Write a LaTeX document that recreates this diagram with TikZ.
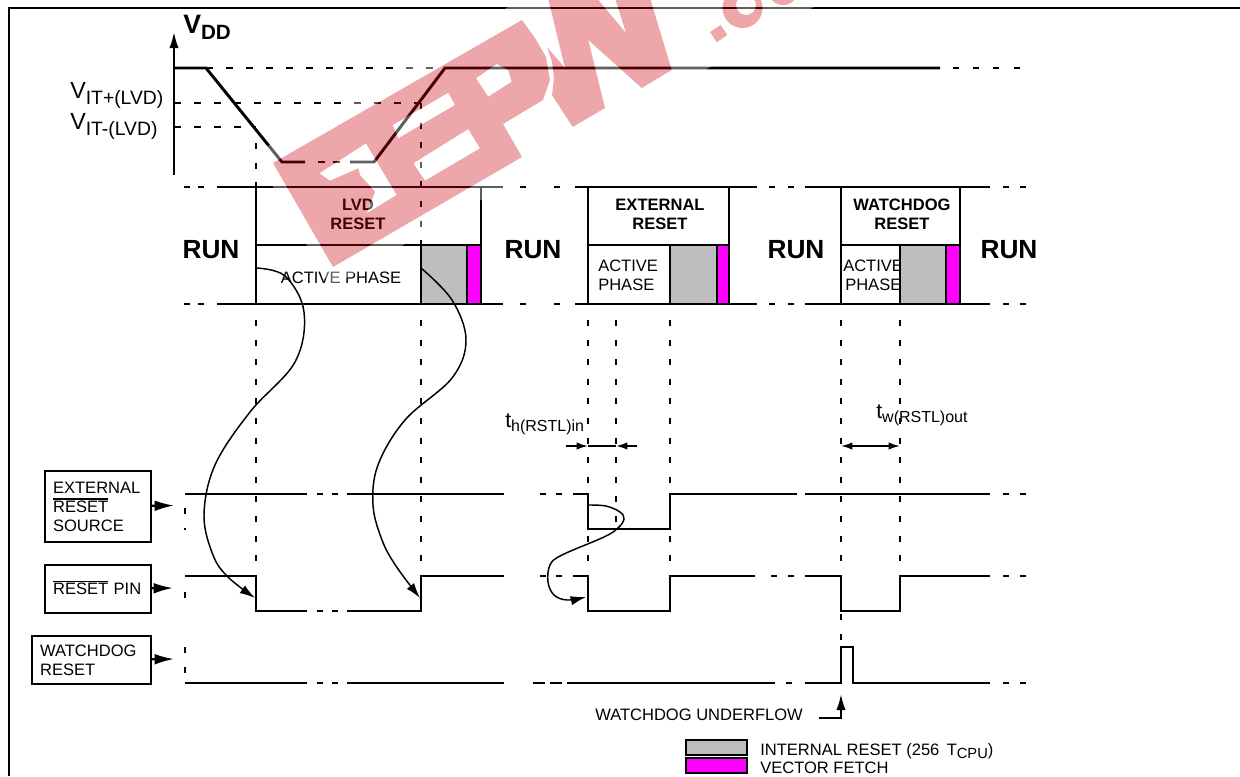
\documentclass[tikz,border=0pt]{standalone}
\usepackage{fontspec}
\setmainfont{Liberation Sans}
\usetikzlibrary{arrows.meta}
\definecolor{intern}{RGB}{190,190,190}
\definecolor{vector}{RGB}{255,0,255}
\definecolor{wmred}{RGB}{203,0,10}
\newcommand{\subtxt}[1]{\raisebox{-3.6pt}{\fontsize{12}{12}\selectfont #1}}
\newcommand{\barred}[1]{\leavevmode\setbox0\hbox{#1}\rlap{\smash{\rule[9.5pt]{\wd0}{0.95pt}}}\box0\relax}
\newcommand{\ticks}[2]{\foreach \t in {#2} {\draw[wave] (\t,#1) -- ++(5.5,0);}}
\newcommand{\wmletters}{(273,163) -- (522,20) -- (535,38) -- (546,57) -- (550,80) -- (543,100) -- (503,124) -- (522,157) -- (333,267) -- cycle
  (319.3,173.3) -- (366,143.3) -- (396.7,195) -- (366.7,213.3) -- (375,191.7) -- (360,175) -- (358.3,168.3) -- (330,180.7) -- cycle
  (392.7,125) -- (448.3,92.7) -- (455,105) -- (398.3,138.3) -- cycle
  (413.3,163.3) -- (468.3,129) -- (480,148.3) -- (425,180.7) -- cycle
  (476,78.3) -- (496.7,64) -- (508.3,70) -- (511.7,81.7) -- (488.3,96.7) -- cycle
  (548,-2) -- (596.7,-2) -- (626,33) -- (615,-2) -- (650,-2) -- (671.7,70) -- (641.7,88) -- (588.3,40) -- (605,108) -- (572.7,127) -- (552,95) -- (554,78) -- (552,62) -- (547,47) -- (565,68) -- cycle
  (710,32) -- (720.7,25) -- (727.3,35) -- (716.7,42.3) -- cycle
  (742.5,8) circle[radius=20] (746,5) circle[radius=10]
  (783,-10) circle[radius=15]}
\begin{document}
\begin{tikzpicture}[x=0.75pt, y=-0.75pt]
    \tikzstyle{wave} = [line width=1.6pt]
    \tikzstyle{gapline} = [line width=1.6pt, dash pattern=on 5.25pt off 9.75pt]
    \tikzstyle{vgap} = [line width=1.6pt, dash pattern=on 4.5pt off 10.2pt]
    \tikzstyle{runlabel} = [font=\bfseries\fontsize{19.7}{22}\selectfont, inner sep=0pt]
    \tikzstyle{boldlabel} = [font=\bfseries\fontsize{12.4}{14.2}\selectfont, align=center, inner sep=0pt]
    \tikzstyle{plainlabel} = [font=\fontsize{12.4}{14.2}\selectfont, align=left, inner sep=0pt]
    \tikzstyle{sourcebox} = [draw, line width=1.6pt, font=\fontsize{12.4}{14.2}\selectfont, align=left, inner xsep=6pt, inner ysep=0pt, anchor=north west]
    \tikzstyle{feed} = [line width=1.6pt, -{Latex[length=14.5pt, width=8pt]}]
    \tikzstyle{effect} = [line width=1.1pt, -{Latex[length=11.5pt, width=7pt]}]
    \tikzstyle{spanarrow} = [line width=1.2pt, -{Latex[length=8.5pt, width=5.5pt]}]
    \useasboundingbox (0,0) rectangle (1240,776);

    % frame
    \draw[line width=1.6pt] (9,776) -- (9,8) -- (1240,8);

    % supply
    \node[inner sep=0pt, anchor=base west] (vdd) at (183,33) {\bfseries\fontsize{20}{20}\selectfont V\raisebox{-4.5pt}{\fontsize{15.5}{15.5}\selectfont DD}};
    \node[inner sep=0pt, anchor=base west] (vitp) at (70,98) {\fontsize{17.5}{18}\selectfont V\raisebox{-4.5pt}{\fontsize{14.5}{14.5}\selectfont IT+(LVD)}};
    \node[inner sep=0pt, anchor=base west] (vitm) at (70,129) {\fontsize{17.5}{18}\selectfont V\raisebox{-4.5pt}{\fontsize{14.5}{14.5}\selectfont IT-(LVD)}};
    \coordinate (axisfoot) at (174,175);
    \coordinate (axistop) at (174,32);
    \draw[line width=1.6pt, -{Latex[length=12pt, width=7pt]}] (axisfoot) -- (axistop);
    \draw[gapline] (206,68) -- (445,68);
    \draw[gapline] (174,103) -- (421,103);
    \draw[gapline] (174,127) -- (256,127);
    \draw[line width=2.2pt] (174,68) -- (206,68) -- (282,162) -- (305,162);
    \draw[line width=2.2pt] (350,162) -- (374,162) -- (445,68) -- (940,68);
    \draw[line width=2.2pt] (318,162) -- (325,162) (333,162) -- (340,162);
    \ticks{68}{953,973,993,1014}

    % vertical guides
    \draw[vgap] (256,143) -- (256,187);
    \draw[vgap] (421,103) -- (421,245);
    \foreach \x/\e in {256/576, 421/576, 588/576, 616/527, 670/576, 841/647, 900/576} {
        \draw[vgap] (\x,320) -- (\x,\e);
    }

    % run rows
    \foreach \y in {187,304} {
        \draw[wave] (217,\y) -- (503,\y) (575,\y) -- (757,\y) (805,\y) -- (990,\y);
        \ticks{\y}{184,198,520,554,769,788,1003,1020}
    }

    % phase labels
    \node[runlabel] (run1) at (211,250) {RUN};
    \node[runlabel] (run2) at (533,250) {RUN};
    \node[runlabel] (run3) at (796,250) {RUN};
    \node[runlabel] (run4) at (1009,250) {RUN};
    \node[boldlabel] (lvd) at (358,214.5) {LVD\\RESET};
    \node[boldlabel] (external) at (660,214.5) {EXTERNAL\\RESET};
    \node[boldlabel] (watchdog) at (902,214.5) {WATCHDOG\\RESET};
    \node[plainlabel] (active1) at (341,278) {ACTIVE PHASE};
    \node[plainlabel, anchor=west] (active2) at (598,275) {ACTIVE\\PHASE};
    \node[plainlabel, anchor=west] (active3) at (843,275) {ACTIVE\\\hspace*{1.5pt}PHASE};

    % reset boxes
    \foreach \a/\b in {256/481, 588/729, 841/960} {
        \draw[wave] (\a,187) -- (\a,304) (\b,187) -- (\b,304) (\a,245) -- (\b,245);
    }
    \foreach \a/\b/\c in {421/467/481, 670/717/729, 900/946/960} {
        \draw[wave, fill=intern] (\a,245) rectangle (\b,304);
        \draw[wave, fill=vector] (\b,245) rectangle (\c,304);
    }

    % source boxes
    \node[sourcebox, text width=67.5pt, minimum height=53.25pt] (extsrc) at (44,470) {EXTERNAL\\\barred{RESET}\\SOURCE};
    \node[sourcebox, text width=67.5pt, minimum height=36pt] (pin) at (44,564) {\barred{RESET} PIN};
    \node[sourcebox, text width=77.25pt, minimum height=36pt] (wdog) at (31,635) {WATCHDOG\\RESET};
    \coordinate (extin) at (174,505.5);
    \coordinate (pinin) at (173,588);
    \coordinate (wdogin) at (174,659);
    \draw[feed] (extsrc) -- (extin);
    \draw[feed] (pin) -- (pinin);
    \draw[feed] (wdog) -- (wdogin);

    % signals
    \draw[vgap] (185,508) -- (185,530);
    \draw[vgap] (185,592) -- (185,611);
    \draw[vgap] (185,647) -- (185,683);
    \draw[wave] (185,494) -- (307,494) (347,494) -- (504,494);
    \draw[wave] (573,494) -- (588,494) -- (588,529) -- (670,529) -- (670,494) -- (797,494) (805,494) -- (990,494);
    \ticks{494}{317,332,540,556,1003,1020}
    \draw[wave] (185,576) -- (256,576) -- (256,611) -- (307,611) (347,611) -- (421,611) -- (421,576) -- (504,576);
    \draw[wave] (573,576) -- (588,576) -- (588,611) -- (670,611) -- (670,576) -- (755,576);
    \draw[wave] (805,576) -- (841,576) -- (841,611) -- (900,611) -- (900,576) -- (990,576);
    \ticks{611}{317,332}
    \ticks{576}{540,556,771,788,1003,1020}
    \draw[wave] (185,683) -- (307,683) (347,683) -- (504,683) (567,683) -- (775,683);
    \draw[wave] (805,683) -- (841,683) -- (841,647) -- (853,647) -- (853,683) -- (990,683);
    \ticks{683}{317,332,533,539,550,556,786,1003,1020}

    % cause and effect
    \draw[effect] plot[smooth, tension=0.6] coordinates {(256,268) (285,276) (304,312) (295,362) (250,412) (215,465) (204,515) (213,555) (228,577) (255,598)};
    \draw[effect] plot[smooth, tension=0.6] coordinates {(421,268) (452,300) (466,340) (452,378) (405,420) (378,465) (373,505) (382,540) (396,566) (420,598)};
    \draw[effect] plot[smooth, tension=0.6] coordinates {(588,505) (606,506) (620,512) (624,519) (618,528) (604,537) (562,555) (550,565) (548,582) (554,595) (567,600) (586,597)};

    % timings
    \node[inner sep=0pt, anchor=base west] (thold) at (505,427) {\fontsize{16}{16}\selectfont t\subtxt{h(RSTL)in}};
    \node[inner sep=0pt, anchor=base west] (twidth) at (876,418) {\fontsize{16}{16}\selectfont t\subtxt{w(RSTL)out}};
    \coordinate (holda) at (566,446);
    \coordinate (holdb) at (588,446);
    \coordinate (holdc) at (616,446);
    \coordinate (holdd) at (637,446);
    \coordinate (widtha) at (841,446);
    \coordinate (widthb) at (900,446);
    \draw[spanarrow] (holda) -- (holdb);
    \draw[line width=1.2pt] (holdb) -- (holdc);
    \draw[spanarrow] (holdd) -- (holdc);
    \draw[spanarrow, {Latex[length=8.5pt, width=5.5pt]}-{Latex[length=8.5pt, width=5.5pt]}] (widtha) -- (widthb);

    % underflow
    \node[plainlabel, anchor=west] (underflow) at (595,715) {WATCHDOG UNDERFLOW};
    \coordinate (ufstart) at (819,718);
    \coordinate (uftop) at (841,694);
    \draw[line width=1.6pt, -{Latex[length=12pt, width=7pt]}] (ufstart) -| (uftop);

    % legend
    \draw[wave, fill=intern] (686,740) rectangle (747,755);
    \draw[wave, fill=vector] (686,758) rectangle (747,773);
    \node[plainlabel, anchor=base west] (legint) at (760,755) {INTERNAL RESET (256\, T\raisebox{-2.5pt}{\fontsize{11}{11}\selectfont CPU})};
    \node[plainlabel, anchor=base west] (legvec) at (760,773) {VECTOR FETCH};

    % watermark
    \begin{scope}
        \clip (0,0) rectangle (1240,776);
        \fill[white, opacity=0.37, even odd rule] (254,154) -- (331,287) -- (900,-43) -- (600,-46) -- cycle \wmletters;
        \fill[wmred, opacity=0.345, even odd rule] \wmletters;
    \end{scope}
\end{tikzpicture}
\end{document}
